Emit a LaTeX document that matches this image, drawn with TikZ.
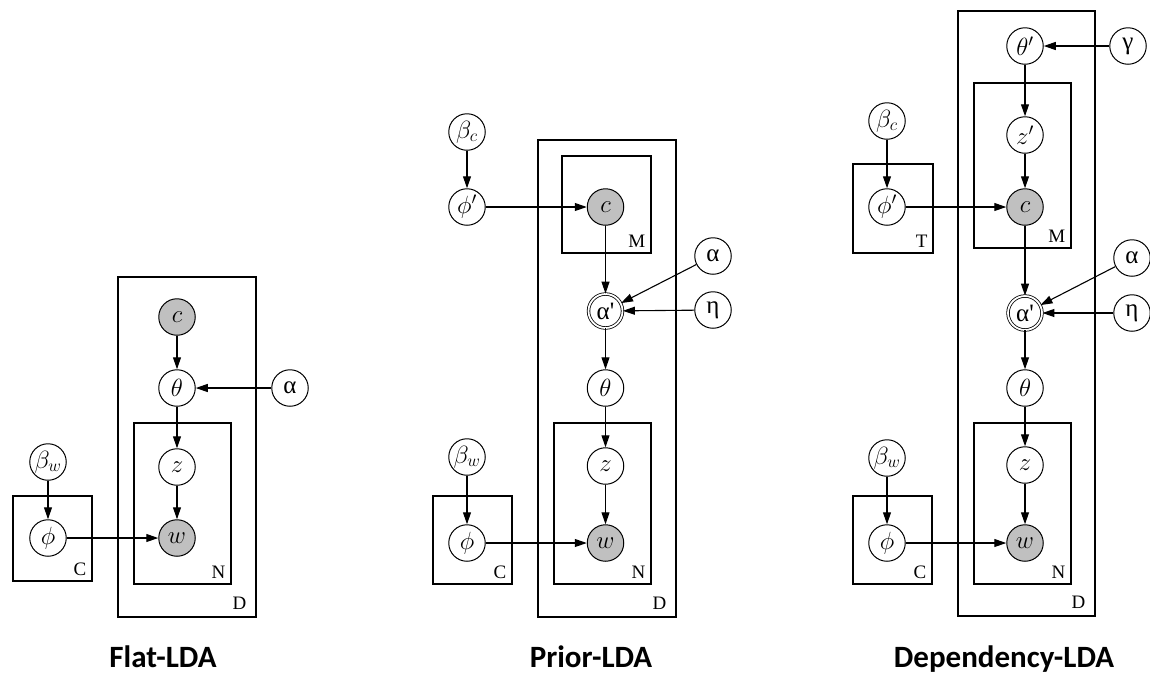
\documentclass[tikz,border=0pt]{standalone}
\usepackage{fontspec}
\setmainfont{Liberation Serif}
\newfontfamily\grk{Liberation Serif}
\newfontfamily\titlefont{Carlito}
\usetikzlibrary{arrows.meta,fit}
\definecolor{obsgray}{RGB}{192,192,192}
\tikzset{
  rv/.style={circle, draw, line width=1pt, minimum size=36.5pt, inner sep=0pt,
    font=\fontsize{25}{25}\selectfont},
  grv/.style={rv, font=\grk\fontsize{25}{25}\selectfont},
  obs/.style={rv, fill=obsgray},
  det/.style={grv, double, double distance=1.8pt, line width=0.8pt, minimum size=34pt},
  plate/.style={draw, line width=1.1pt, inner sep=0pt},
  platelab/.style={anchor=base east, inner sep=0pt, font=\fontsize{19}{19}\selectfont},
  edge/.style={line width=1.1pt, -{Triangle[length=12pt,width=8pt]}},
  title/.style={anchor=base, inner sep=0pt, font=\titlefont\bfseries\fontsize{31}{31}\selectfont}
}
\begin{document}
\begin{tikzpicture}[x=1pt,y=-1pt]
\useasboundingbox (0,0) rectangle (1150,673);

% ---------------- Flat-LDA ----------------
\node[plate, fit={(118,277) (256,617)}] (fD) {};
\node[plate, fit={(134,423) (231,584)}] (fN) {};
\node[plate, fit={(13,496) (92,581)}] (fC) {};
\node[platelab] (fDl) at ([shift={(-10,-8)}]fD.south east) {D};
\node[platelab] (fNl) at ([shift={(-6,-6)}]fN.south east) {N};
\node[platelab] (fCl) at ([shift={(-6,-6)}]fC.south east) {C};

\node[obs] (fc) at (177,317) {$c$};
\node[rv] (ftheta) at (177,388) {$\theta$};
\node[grv] (falpha) at (290,388) {α};
\node[rv] (fz) at (177,467) {$z$};
\node[obs] (fw) at (177,538) {$w$};
\node[rv] (fbw) at (48,462) {$\beta_w$};
\node[rv] (fphi) at (48,538) {$\phi$};

\draw[edge] (fc) -- (ftheta);
\draw[edge] (falpha) -- (ftheta);
\draw[edge] (ftheta) -- (fz);
\draw[edge] (fz) -- (fw);
\draw[edge] (fbw) -- (fphi);
\draw[edge] (fphi) -- (fw);

\node[title] (ft) at (163,667) {Flat-LDA};

% ---------------- Prior-LDA ----------------
\node[plate, fit={(538,140) (676,617)}] (pD) {};
\node[plate, fit={(562,156) (651,253)}] (pM) {};
\node[plate, fit={(554,423) (651,584)}] (pN) {};
\node[plate, fit={(433,496) (512,584)}] (pC) {};
\node[platelab] (pDl) at ([shift={(-10,-8)}]pD.south east) {D};
\node[platelab] (pMl) at ([shift={(-6,-6)}]pM.south east) {M};
\node[platelab] (pNl) at ([shift={(-6,-6)}]pN.south east) {N};
\node[platelab] (pCl) at ([shift={(-6,-6)}]pC.south east) {C};

\node[rv] (pbc) at (467,132) {$\beta_c$};
\node[rv] (pphip) at (467,207) {$\phi'$};
\node[obs] (pc) at (605.5,207) {$c$};
\node[grv] (palpha) at (713,256) {α};
\node[grv] (peta) at (713,310) {η};
\node[det] (pap) at (605.5,311) {α\textquotesingle};
\node[rv] (ptheta) at (605.5,388) {$\theta$};
\node[rv] (pz) at (605.5,466) {$z$};
\node[obs] (pw) at (605.5,543) {$w$};
\node[rv] (pbw) at (467,457) {$\beta_w$};
\node[rv] (pphi) at (467,543) {$\phi$};

\draw[edge] (pbc) -- (pphip);
\draw[edge] (pphip) -- (pc);
\draw[edge] (pc) -- (pap);
\draw[edge] (palpha) -- (pap);
\draw[edge] (peta) -- (pap);
\draw[edge] (pap) -- (ptheta);
\draw[edge] (ptheta) -- (pz);
\draw[edge] (pz) -- (pw);
\draw[edge] (pbw) -- (pphi);
\draw[edge] (pphi) -- (pw);

\node[title] (pt) at (591,667) {Prior-LDA};

% ---------------- Dependency-LDA ----------------
\node[plate, fit={(958,11) (1095,616)}] (dD) {};
\node[plate, fit={(974,83) (1071,248)}] (dM) {};
\node[plate, fit={(853,164) (933,253)}] (dT) {};
\node[plate, fit={(974,423) (1071,584)}] (dN) {};
\node[plate, fit={(853,496) (932,584)}] (dC) {};
\node[platelab] (dDl) at ([shift={(-10,-8)}]dD.south east) {D};
\node[platelab] (dMl) at ([shift={(-6,-6)}]dM.south east) {M};
\node[platelab] (dTl) at ([shift={(-6,-6)}]dT.south east) {T};
\node[platelab] (dNl) at ([shift={(-6,-6)}]dN.south east) {N};
\node[platelab] (dCl) at ([shift={(-6,-6)}]dC.south east) {C};

\node[rv] (dthp) at (1025,46) {$\theta'$};
\node[grv] (dgam) at (1128,46) {γ};
\node[rv] (dzp) at (1025,135) {$z'$};
\node[obs] (dc) at (1025,207) {$c$};
\node[rv] (dbc) at (887,121) {$\beta_c$};
\node[rv] (dphip) at (887,207) {$\phi'$};
\node[grv] (dalpha) at (1132,258) {α};
\node[grv] (deta) at (1132,313) {η};
\node[det] (dap) at (1025,313) {α\textquotesingle};
\node[rv] (dtheta) at (1025,388) {$\theta$};
\node[rv] (dz) at (1025,465) {$z$};
\node[obs] (dw) at (1025,543) {$w$};
\node[rv] (dbw) at (887,458) {$\beta_w$};
\node[rv] (dphi) at (887,543) {$\phi$};

\draw[edge] (dgam) -- (dthp);
\draw[edge] (dthp) -- (dzp);
\draw[edge] (dzp) -- (dc);
\draw[edge] (dbc) -- (dphip);
\draw[edge] (dphip) -- (dc);
\draw[edge] (dc) -- (dap);
\draw[edge] (dalpha) -- (dap);
\draw[edge] (deta) -- (dap);
\draw[edge] (dap) -- (dtheta);
\draw[edge] (dtheta) -- (dz);
\draw[edge] (dz) -- (dw);
\draw[edge] (dbw) -- (dphi);
\draw[edge] (dphi) -- (dw);

\node[title] (dt) at (1004,667) {Dependency-LDA};
\end{tikzpicture}
\end{document}
